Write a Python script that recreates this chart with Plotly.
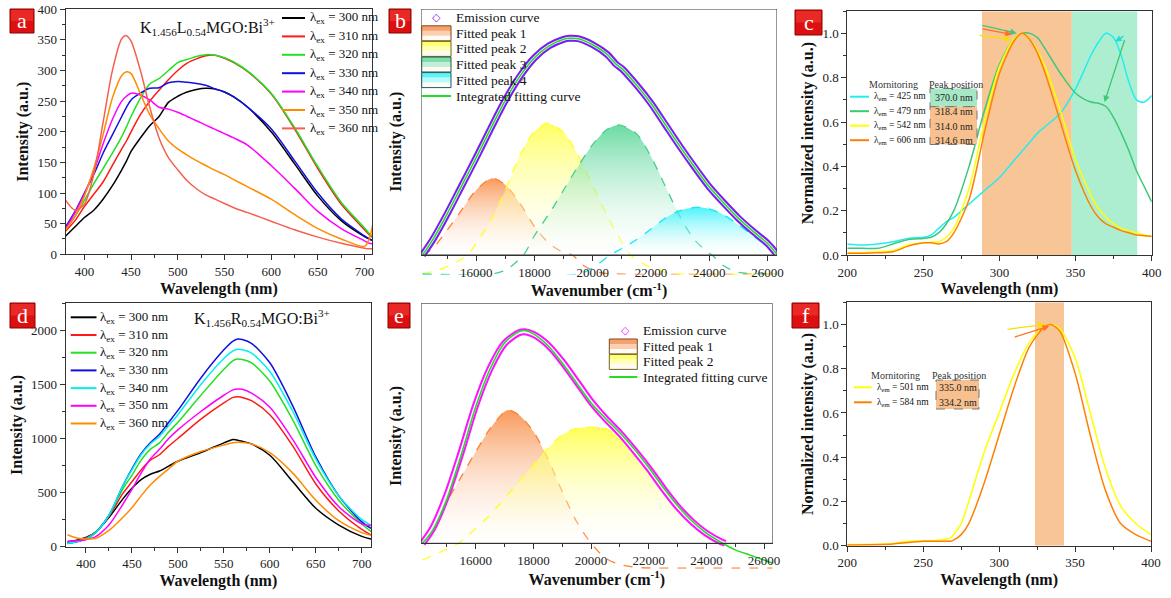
import numpy as np
import plotly.graph_objects as go

W, H = 1171, 598
SERIF = "Liberation Serif, Times New Roman, serif"

def px(x):
    return x / W

def py(y):
    return 1 - y / H

# ---------------- data ----------------
# panel a
a_x = [380, 390, 400, 410, 420, 430, 440, 445, 450, 460, 470, 480, 490, 500, 510, 520, 530, 540,
       550, 560, 575, 600, 625, 650, 675, 700, 705, 710]
a_names = ["300", "310", "320", "330", "340", "350", "360"]
a_colors = ["#000000", "#ff1a1a", "#22e022", "#1010e0", "#ff00ff", "#ff8c00", "#f5604f"]
a_300 = [30, 45, 60, 72, 90, 112, 138, 152, 168, 190, 210, 225, 248, 258, 265, 269, 271, 270, 265, 257, 240, 200, 148, 95, 55, 29, 25, 22]
a_310 = [38, 55, 78, 98, 118, 145, 172, 185, 200, 228, 250, 268, 285, 300, 312, 319, 324, 325, 320, 313, 298, 262, 205, 140, 82, 40, 32, 26]
a_320 = [45, 62, 88, 115, 140, 165, 192, 208, 225, 255, 278, 287, 300, 313, 318, 323, 326, 325, 321, 314, 299, 263, 207, 143, 85, 43, 34, 28]
a_330 = [45, 70, 100, 130, 165, 195, 225, 240, 252, 263, 271, 272, 280, 282, 281, 279, 276, 270, 265, 257, 240, 205, 153, 100, 58, 30, 25, 22]
a_340 = [42, 68, 98, 135, 180, 220, 250, 258, 263, 260, 252, 240, 237, 232, 225, 218, 211, 204, 197, 190, 178, 145, 108, 70, 42, 22, 18, 17]
a_350 = [40, 62, 95, 140, 195, 255, 292, 298, 295, 262, 228, 205, 185, 172, 162, 153, 145, 137, 130, 122, 110, 90, 65, 42, 25, 13, 25, 58]
a_360 = [88, 72, 82, 130, 215, 300, 352, 357, 348, 300, 240, 190, 158, 138, 120, 107, 97, 90, 83, 76, 68, 54, 40, 28, 18, 10, 9, 9]
a_series = [a_300, a_310, a_320, a_330, a_340, a_350, a_360]

# panel d
d_x = [380, 390, 400, 410, 425, 440, 450, 460, 470, 480, 490, 500, 525, 550, 560, 565, 570, 580,
       600, 625, 650, 675, 700, 710]
d_colors = ["#000000", "#ff1a1a", "#22e022", "#1010e0", "#00f0f0", "#ff00ff", "#ff8c00"]
d_300 = [45, 60, 85, 130, 270, 440, 540, 620, 670, 700, 745, 790, 870, 960, 990, 985, 975, 950, 845, 600, 355, 200, 95, 70]
d_310 = [40, 55, 80, 130, 280, 490, 600, 710, 800, 850, 930, 1000, 1180, 1330, 1380, 1385, 1380, 1350, 1220, 930, 580, 330, 160, 110]
d_320 = [35, 50, 75, 130, 290, 530, 660, 800, 900, 960, 1060, 1150, 1400, 1640, 1720, 1735, 1730, 1700, 1530, 1170, 750, 430, 210, 140]
d_330 = [30, 45, 70, 125, 290, 560, 720, 860, 960, 1040, 1150, 1260, 1560, 1820, 1900, 1920, 1915, 1880, 1700, 1300, 830, 470, 230, 170]
d_340 = [30, 45, 70, 125, 290, 560, 710, 850, 950, 1020, 1120, 1220, 1500, 1740, 1810, 1825, 1820, 1790, 1620, 1250, 810, 470, 250, 200]
d_350 = [50, 55, 65, 90, 200, 390, 530, 680, 810, 900, 1000, 1080, 1250, 1400, 1450, 1458, 1455, 1420, 1290, 990, 640, 370, 210, 195]
d_360 = [110, 80, 72, 75, 150, 270, 360, 470, 570, 650, 720, 790, 880, 940, 960, 965, 963, 950, 870, 680, 430, 240, 130, 105]
d_series = [d_300, d_310, d_320, d_330, d_340, d_350, d_360]

# panel b (wavenumber, relative intensity)
b_x = [14150, 14500, 15000, 15500, 16000, 16500, 17000, 17500, 18000, 18500, 19000, 19200, 19500, 20000,
       20500, 20800, 21000, 21500, 22000, 22500, 23000, 23500, 24000, 24500, 25000, 25500, 26000, 26300]
b_em = [0.0, 0.07, 0.19, 0.32, 0.45, 0.585, 0.715, 0.825, 0.91, 0.965, 0.995, 1.0, 0.998, 0.97,
        0.925, 0.88, 0.86, 0.785, 0.70, 0.60, 0.50, 0.405, 0.315, 0.24, 0.17, 0.11, 0.054, 0.008]
b_fit = b_em
b_p1_x = [14150, 14500, 15000, 15500, 16000, 16550, 17000, 17500, 18000, 18500, 19000, 19300, 19700, 20200, 21000, 26300]
b_p1_y = [0.0, 0.03, 0.115, 0.208, 0.30, 0.354, 0.323, 0.238, 0.131, 0.054, 0.011, 0.0, -0.05, -0.08, -0.088, -0.088]
b_p2_x = [14150, 14700, 15200, 15700, 16000, 16500, 17000, 17500, 18000, 18450, 19000, 19500, 20000, 20500, 21000, 21300, 21800, 22500, 23000, 26300]
b_p2_y = [-0.085, -0.07, -0.04, 0.0, 0.055, 0.16, 0.30, 0.46, 0.57, 0.608, 0.565, 0.46, 0.32, 0.18, 0.06, 0.0, -0.045, -0.08, -0.088, -0.088]
b_p3_x = [14150, 16500, 17000, 17620, 18000, 18500, 19000, 19500, 20000, 20500, 20900, 21500, 22000, 22500, 23000, 23500, 24000, 24100, 24500, 25000, 26300]
b_p3_y = [-0.088, -0.088, -0.07, 0.0, 0.09, 0.19, 0.30, 0.41, 0.51, 0.58, 0.60, 0.56, 0.454, 0.315, 0.177, 0.069, 0.008, 0.0, -0.05, -0.08, -0.088]
b_p4_x = [14150, 19500, 20000, 20600, 21000, 21500, 22000, 22500, 23000, 23550, 24000, 24500, 25000, 25500, 26000, 26300]
b_p4_y = [-0.088, -0.088, -0.06, 0.0, 0.03, 0.07, 0.12, 0.17, 0.205, 0.22, 0.213, 0.185, 0.14, 0.09, 0.04, 0.015]

# panel e
e_x = [14150, 14500, 15000, 15500, 16000, 16500, 17000, 17500, 17700, 18000, 18500, 19000, 19500, 20000,
       20500, 21000, 21500, 22000, 22500, 23000, 23500, 24000, 24500, 24650]
e_em = [0.0, 0.07, 0.228, 0.433, 0.654, 0.827, 0.945, 0.995, 1.0, 0.987, 0.937, 0.858, 0.764, 0.669,
        0.59, 0.52, 0.44, 0.354, 0.26, 0.173, 0.102, 0.047, 0.008, 0.0]
e_fit_x = [14150, 14500, 15000, 15500, 16000, 16500, 17000, 17500, 17700, 18000, 18500, 19000, 19500, 20000,
           20500, 21000, 21500, 22000, 22500, 23000, 23500, 24000, 24500, 25000, 25500, 26000, 26300]
e_fit = [0.0, 0.06, 0.21, 0.42, 0.645, 0.825, 0.948, 1.0, 1.005, 0.99, 0.935, 0.852, 0.757, 0.663,
         0.59, 0.522, 0.445, 0.358, 0.265, 0.178, 0.105, 0.048, 0.005, -0.031, -0.055, -0.079, -0.094]
e_p1_x = [14150, 14500, 15000, 15500, 16000, 16500, 17000, 17150, 17500, 18000, 18500, 19000, 19500, 20000, 20500, 21000, 21700, 22500, 26300]
e_p1_y = [0.0, 0.09, 0.2, 0.315, 0.433, 0.543, 0.622, 0.63, 0.606, 0.528, 0.40, 0.244, 0.102, 0.0, -0.07, -0.1, -0.115, -0.117, -0.117]
e_p2_x = [14150, 14800, 15400, 16000, 16500, 17000, 17500, 18000, 18500, 19000, 19500, 20000, 20500, 21000, 21500, 22000, 22500, 23000, 23500, 24000, 24500, 24650]
e_p2_y = [-0.079, -0.039, 0.0, 0.071, 0.134, 0.213, 0.291, 0.37, 0.449, 0.512, 0.543, 0.548, 0.543, 0.50, 0.44, 0.354, 0.26, 0.173, 0.10, 0.045, 0.008, 0.0]

# panel c
c_x = [200, 210, 220, 230, 240, 250, 255, 260, 265, 270, 280, 290, 300, 310, 315, 320, 325, 330, 340, 350, 360, 365, 370, 375, 380, 385, 390, 395, 400]
c_425 = [0.05, 0.045, 0.05, 0.06, 0.075, 0.08, 0.09, 0.12, 0.15, 0.17, 0.23, 0.29, 0.35, 0.43, 0.47, 0.51, 0.55, 0.58, 0.64, 0.75, 0.9, 0.96, 1.0, 0.98, 0.9, 0.78, 0.70, 0.69, 0.72]
c_479 = [0.03, 0.03, 0.03, 0.05, 0.07, 0.075, 0.08, 0.1, 0.14, 0.2, 0.4, 0.65, 0.86, 0.98, 1.0, 1.0, 0.98, 0.93, 0.82, 0.73, 0.69, 0.685, 0.67, 0.62, 0.55, 0.47, 0.38, 0.31, 0.24]
c_542 = [0.01, 0.01, 0.015, 0.02, 0.045, 0.055, 0.058, 0.06, 0.08, 0.12, 0.3, 0.6, 0.85, 0.98, 0.998, 0.97, 0.92, 0.85, 0.65, 0.43, 0.27, 0.21, 0.17, 0.14, 0.12, 0.11, 0.1, 0.09, 0.085]
c_606 = [0.008, 0.008, 0.01, 0.015, 0.04, 0.055, 0.055, 0.05, 0.06, 0.1, 0.25, 0.55, 0.82, 0.97, 1.0, 0.97, 0.91, 0.82, 0.6, 0.38, 0.22, 0.17, 0.14, 0.125, 0.11, 0.1, 0.09, 0.087, 0.085]
c_labels = ["425", "479", "542", "606"]
c_peaks = ["370.0 nm", "318.4 nm", "314.0 nm", "314.6 nm"]
c_colors = ["#22eeee", "#3cc878", "#ffff00", "#ff8000"]

# panel f
f_x = [200, 230, 240, 250, 260, 265, 268, 270, 275, 280, 290, 300, 310, 320, 330, 334, 335, 340, 350, 360, 370, 380, 390, 400]
f_501 = [0.005, 0.01, 0.02, 0.022, 0.025, 0.03, 0.035, 0.05, 0.1, 0.2, 0.42, 0.6, 0.78, 0.92, 0.99, 0.998, 1.0, 0.98, 0.85, 0.6, 0.35, 0.18, 0.1, 0.05]
f_584 = [0.003, 0.008, 0.015, 0.02, 0.02, 0.02, 0.02, 0.025, 0.05, 0.1, 0.28, 0.5, 0.72, 0.9, 0.99, 1.0, 0.998, 0.97, 0.78, 0.5, 0.25, 0.1, 0.05, 0.02]
f_labels = ["501", "584"]
f_peaks = ["335.0 nm", "334.2 nm"]
f_colors = ["#ffff00", "#ff8000"]

fig = go.Figure()

# ---------------- panel a & d lines ----------------
for name, ys, col in zip(a_names, a_series, a_colors):
    fig.add_trace(go.Scatter(x=a_x, y=ys, xaxis="x", yaxis="y", mode="lines",
                             line=dict(color=col, width=1.5, shape="spline", smoothing=0.8),
                             name=f"λex = {name} nm", showlegend=False))
for name, ys, col in zip(a_names, d_series, d_colors):
    fig.add_trace(go.Scatter(x=d_x, y=ys, xaxis="x4", yaxis="y4", mode="lines",
                             line=dict(color=col, width=1.5, shape="spline", smoothing=0.8),
                             name=f"λex = {name} nm", showlegend=False))

# ---------------- panel b & e fitted peaks ----------------
def add_peak(xs, ys, xa, ya, line_col, top_col, name):
    xs = np.array(xs, dtype=float)
    ys = np.array(ys, dtype=float)
    m = ys >= 0
    fig.add_trace(go.Scatter(x=xs[m], y=ys[m], xaxis=xa, yaxis=ya, mode="lines",
                             line=dict(width=0, shape="spline", smoothing=0.8), fill="tozeroy",
                             fillgradient=dict(type="vertical",
                                               colorscale=[[0, "rgba(255,255,255,0.15)"], [1, top_col]]),
                             showlegend=False, name=name, hoverinfo="skip"))
    fig.add_trace(go.Scatter(x=xs, y=ys, xaxis=xa, yaxis=ya, mode="lines",
                             line=dict(width=1.3, color=line_col, dash="dash", shape="spline", smoothing=0.8),
                             showlegend=False, name=name))

add_peak(b_p1_x, b_p1_y, "x2", "y2", "#ff8030", "rgba(247,135,60,0.85)", "Fitted peak 1")
add_peak(b_p2_x, b_p2_y, "x2", "y2", "#ffff20", "rgba(255,255,60,0.8)", "Fitted peak 2")
add_peak(b_p3_x, b_p3_y, "x2", "y2", "#40d08a", "rgba(70,210,140,0.8)", "Fitted peak 3")
add_peak(b_p4_x, b_p4_y, "x2", "y2", "#10e8f8", "rgba(30,240,250,0.8)", "Fitted peak 4")
add_peak(e_p1_x, e_p1_y, "x5", "y5", "#ff8030", "rgba(247,135,60,0.85)", "Fitted peak 1")
add_peak(e_p2_x, e_p2_y, "x5", "y5", "#ffff20", "rgba(255,255,60,0.85)", "Fitted peak 2")

# emission bands (dense diamonds) + fit
def add_emission(xs, ys, fx, fy, xa, ya, col):
    fig.add_trace(go.Scatter(x=xs, y=ys, xaxis=xa, yaxis=ya, mode="lines",
                             line=dict(color=col, width=7, shape="spline", smoothing=0.8),
                             name="Emission curve", showlegend=False))
    fig.add_trace(go.Scatter(x=xs, y=ys, xaxis=xa, yaxis=ya, mode="lines",
                             line=dict(color="#f4eefe", width=3, shape="spline", smoothing=0.8),
                             showlegend=False, hoverinfo="skip"))
    fig.add_trace(go.Scatter(x=fx, y=fy, xaxis=xa, yaxis=ya, mode="lines",
                             line=dict(color="#22dd22", width=1.5, shape="spline", smoothing=0.8),
                             name="Integrated fitting curve", showlegend=False))

add_emission(b_x, b_em, b_x, b_fit, "x2", "y2", "#7a1cf0")
add_emission(e_x, e_em, e_fit_x, e_fit, "x5", "y5", "#ff10ff")

# ---------------- panel c & f ----------------
for lab, ys, col in zip(c_labels, [c_425, c_479, c_542, c_606], c_colors):
    fig.add_trace(go.Scatter(x=c_x, y=ys, xaxis="x3", yaxis="y3", mode="lines",
                             line=dict(color=col, width=1.5, shape="spline", smoothing=0.8),
                             name=f"λem = {lab} nm", showlegend=False))
for lab, ys, col in zip(f_labels, [f_501, f_584], f_colors):
    fig.add_trace(go.Scatter(x=f_x, y=ys, xaxis="x6", yaxis="y6", mode="lines",
                             line=dict(color=col, width=1.5, shape="spline", smoothing=0.8),
                             name=f"λem = {lab} nm", showlegend=False))

# bands
fig.add_shape(type="rect", xref="x3", yref="y3", x0=288.5, x1=347.5, y0=0, y1=1.1,
              fillcolor="#f8c596", line=dict(width=0), layer="below")
fig.add_shape(type="rect", xref="x3", yref="y3", x0=347.5, x1=390.5, y0=0, y1=1.1,
              fillcolor="#aeeed0", line=dict(width=0), layer="below")
fig.add_shape(type="rect", xref="x6", yref="y6", x0=323.6, x1=342.7, y0=0, y1=1.1,
              fillcolor="#f8c596", line=dict(width=0), layer="below")

# arrows
def arrow(xa, ya, x0, y0, x1, y1, col):
    fig.add_annotation(xref=xa, yref=ya, axref=xa, ayref=ya, x=x1, y=y1, ax=x0, ay=y0,
                       text="", showarrow=True, arrowhead=2, arrowsize=1, arrowwidth=1.3, arrowcolor=col)

arrow("x3", "y3", 287.8, 1.038, 311.3, 1.0, "#3cc878")
arrow("x3", "y3", 288.0, 1.022, 308.0, 0.995, "#ff7020")
arrow("x3", "y3", 286.0, 0.992, 307.5, 0.973, "#f5e000")
arrow("x3", "y3", 382.5, 0.992, 376.0, 0.962, "#22dddd")
arrow("x3", "y3", 382.5, 0.977, 369.0, 0.69, "#3cc878")
arrow("x6", "y6", 304.5, 0.977, 330.2, 1.0, "#f5e000")
arrow("x6", "y6", 309.3, 0.941, 333.0, 0.992, "#ff7020")

# frames for b & e (only above the zero line)
fig.add_shape(type="rect", xref="x2", yref="y2", x0=14100, x1=26330, y0=0, y1=1.135,
              line=dict(color="#333", width=1))
fig.add_shape(type="rect", xref="x5", yref="y5", x0=14100, x1=26300, y0=0, y1=1.134,
              line=dict(color="#333", width=1))

# ---------------- axes ----------------
tickfont = dict(family=SERIF, size=13, color="#222")
titlefont = dict(family=SERIF, size=16, color="#111", weight="bold")

def axis(domain, rng, dtick, minor_dtick, title=None, standoff=4, **kw):
    d = dict(domain=domain, range=rng, dtick=dtick, showgrid=False, zeroline=False, automargin=False,
             showline=True, linecolor="#333", linewidth=1, mirror=True,
             ticks="outside", ticklen=5, tickwidth=1, tickcolor="#333", tickfont=tickfont,
             minor=dict(ticks="outside", ticklen=3, tickcolor="#333", dtick=minor_dtick, showgrid=False))
    if title:
        d["title"] = dict(text=title, font=titlefont, standoff=standoff)
    d.update(kw)
    return d

lay = dict(template="none", width=W, height=H, margin=dict(l=0, r=0, t=0, b=0, autoexpand=False),
           paper_bgcolor="white", plot_bgcolor="white", showlegend=False,
           font=dict(family=SERIF, size=13, color="#222"))

# a
lay["xaxis"] = axis([px(65.7), px(372)], [380, 708], 50, 25, "Wavelength (nm)", anchor="y", tick0=400)
lay["yaxis"] = axis([py(254.3), py(9.3)], [0, 400], 50, 25, "Intensity (a.u.)", anchor="x")
# b
lay["xaxis2"] = axis([px(421), px(777)], [14100, 26330], 2000, 1000, "Wavenumber (cm<sup>-1</sup>)",
                     anchor="free", position=py(255), mirror=False, tick0=16000, tickformat="d")
lay["yaxis2"] = dict(domain=[py(274.5), py(9)], range=[-0.09, 1.135], anchor="x2", showline=False,
                     showticklabels=False, ticks="", showgrid=False, zeroline=False, automargin=False,
                     title=dict(text="Intensity (a.u.)", font=titlefont, standoff=14))
# c
lay["xaxis3"] = axis([px(847.3), px(1151.7)], [200, 400], 50, 25, "Wavelength (nm)", anchor="y3")
lay["yaxis3"] = axis([py(255), py(11.2)], [0, 1.1], 0.2, 0.1, "Normalized intensity (a.u.)", anchor="x3",
                     tickformat=".1f")
# d
lay["xaxis4"] = axis([px(65.7), px(371)], [378, 710], 50, 25, "Wavelength (nm)", anchor="y4", tick0=400)
lay["yaxis4"] = axis([py(546.7), py(303.3)], [0, 2250], 500, 250, "Intensity (a.u.)", anchor="x4")
# e
lay["xaxis5"] = axis([px(421), px(772.7)], [14100, 26300], 2000, 1000, "Wavenumber (cm<sup>-1</sup>)",
                     anchor="free", position=py(543.3), mirror=False, tick0=16000, tickformat="d")
lay["yaxis5"] = dict(domain=[py(568.7), py(303.3)], range=[-0.12, 1.134], anchor="x5", showline=False,
                     showticklabels=False, ticks="", showgrid=False, zeroline=False, automargin=False,
                     title=dict(text="Intensity (a.u.)", font=titlefont, standoff=14))
# f
lay["xaxis6"] = axis([px(847.3), px(1151)], [200, 400], 50, 25, "Wavelength (nm)", anchor="y6")
lay["yaxis6"] = axis([py(545.7), py(302.3)], [0, 1.1], 0.2, 0.1, "Normalized intensity (a.u.)", anchor="x6",
                     tickformat=".1f")
fig.update_layout(**lay)

# ---------------- manual legends & texts ----------------
def pline(x0, x1, y, col, width=2, dash=None):
    fig.add_shape(type="line", xref="paper", yref="paper", x0=px(x0), x1=px(x1), y0=py(y), y1=py(y),
                  line=dict(color=col, width=width, dash=dash))

def ptext(x, y, text, size=13, color="#111", xanchor="left", family=SERIF):
    fig.add_annotation(xref="paper", yref="paper", x=px(x), y=py(y), text=text, showarrow=False,
                       xanchor=xanchor, yanchor="middle", font=dict(family=family, size=size, color=color))

def prect(x0, y0, x1, y1, fill, line_col=None, dash=None, width=1):
    fig.add_shape(type="rect", xref="paper", yref="paper", x0=px(x0), x1=px(x1), y0=py(y1), y1=py(y0),
                  fillcolor=fill, line=dict(color=line_col if line_col else "rgba(0,0,0,0)", width=width, dash=dash))

# legend a
for i, (name, col) in enumerate(zip(a_names, a_colors)):
    y = 18 + i * 18.4
    pline(282, 305, y, col, 2)
    ptext(308, y, f"λ<sub>ex</sub> = {name} nm", 13)
ptext(138, 27, "K<sub>1.456</sub>L<sub>0.54</sub>MGO:Bi<sup>3+</sup>", 16)

# legend d
for i, (name, col) in enumerate(zip(a_names, d_colors)):
    y = 317.3 + i * 17.7
    pline(70.7, 96.5, y, col, 2)
    ptext(98, y, f"λ<sub>ex</sub> = {name} nm", 13)
ptext(192, 318, "K<sub>1.456</sub>R<sub>0.54</sub>MGO:Bi<sup>3+</sup>", 16)

# legend b
def swatch(x0, x1, yc, col_full, col_mid, border):
    h = 15
    top = yc - h / 2
    prect(x0, top, x1, top + h * 0.34, col_full)
    prect(x0, top + h * 0.34, x1, top + h * 0.67, col_mid)
    prect(x0, top + h * 0.67, x1, top + h, "#fffaf4")
    prect(x0, top, x1, top + h, "rgba(0,0,0,0)", border, width=1)

ptext(436.7, 17.3, "◇", 11, "#7a1cf0", "center", "DejaVu Sans")
ptext(454, 17.3, "Emission curve", 13.5)
b_leg = [("Fitted peak 1", "#f7a070", "#fad0b0", "#7a4a20"),
         ("Fitted peak 2", "#ffff70", "#ffffb8", "#6a6a20"),
         ("Fitted peak 3", "#7fdcaa", "#c0eed6", "#2a5a40"),
         ("Fitted peak 4", "#60f4f8", "#b8fafc", "#205a60")]
for i, (t, c1, c2, bc) in enumerate(b_leg):
    yc = 33.3 + i * 15.6
    swatch(421.7, 451, yc, c1, c2, bc)
    ptext(454, yc, t, 13.5)
pline(421.7, 451, 96, "#22dd22", 2)
ptext(454, 96, "Integrated fitting curve", 13.5)

# legend e
ptext(625, 330.3, "◇", 11, "#ff10ff", "center", "DejaVu Sans")
ptext(640.7, 330.3, "Emission curve", 13.5)
for i, (t, c1, c2, bc) in enumerate(b_leg[:2]):
    yc = 346.5 + i * 15.4
    swatch(609.3, 637.3, yc, c1, c2, bc)
    ptext(640.7, yc, t, 13.5)
pline(609.3, 637.3, 377, "#22dd22", 2)
ptext(640.7, 377, "Integrated fitting curve", 13.5)

# legend c
ptext(893, 84, "Mornitoring", 10, "#333", "center")
ptext(955.7, 84, "Peak position", 10, "#333", "center")
prect(930, 88.5, 977, 106.7, "#a6e8c6", "#777", "dash")
prect(930, 106.7, 977, 144.5, "#f7c08e", "#777", "dash")
for i, (lab, pk, col) in enumerate(zip(c_labels, c_peaks, c_colors)):
    y = 96.7 + i * 14.5
    pline(850, 869, y, col, 2)
    ptext(872, y, f"λ<sub>em</sub> = {lab} nm", 9.5)
    ptext(953.5, y + 0.5, pk, 10, "#222", "center")

# legend f
ptext(895.7, 375, "Mornitoring", 10, "#333", "center")
ptext(959, 375, "Peak position", 10, "#333", "center")
prect(936, 380, 979, 409, "#f7c08e", "#777", "dash")
for i, (lab, pk, col) in enumerate(zip(f_labels, f_peaks, f_colors)):
    y = 387.3 + i * 15
    pline(854, 871.7, y, col, 2)
    ptext(875, y, f"λ<sub>em</sub> = {lab} nm", 9.5)
    ptext(957.5, y + 0.5, pk, 10, "#222", "center")

# panel labels
for lab, (x0, y0, x1, y1) in zip("abcdef", [(10, 9, 34, 33), (389, 9, 411, 33), (795, 10, 822, 35),
                                            (10, 303, 35, 328), (388, 303, 410, 328), (792, 303, 819, 328)]):
    prect(x0, y0, x1, y1, "#dc1010", "#8a0000", width=1)
    prect(x0 + 1, y0 + 1, x1 - 1, (y0 + y1) / 2, "rgba(255,90,80,0.35)")
    ptext((x0 + x1) / 2, (y0 + y1) / 2, lab, 22, "white", "center")

fig.write_html("out.html", config={"displayModeBar": False},
               post_script="document.body.style.margin='0';document.body.style.padding='0';")
